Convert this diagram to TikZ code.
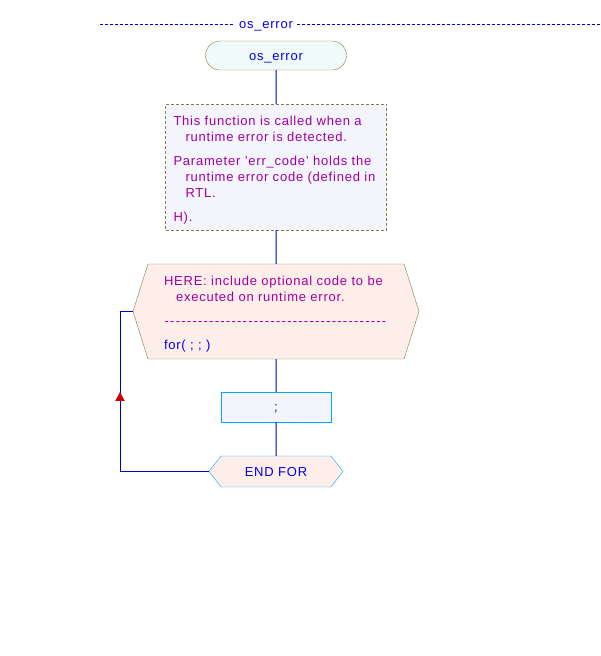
\documentclass[tikz,border=0pt]{standalone}
\usepackage{fontspec}
\setmainfont{Liberation Sans}[LetterSpace=6]
\usetikzlibrary{shapes.misc,shapes.symbols}

\definecolor{flowblue}{RGB}{0,0,204}
\definecolor{textblue}{RGB}{0,0,240}
\definecolor{notetext}{RGB}{160,0,160}
\definecolor{olive}{RGB}{128,128,64}
\definecolor{cyanline}{RGB}{0,168,255}
\definecolor{startfill}{RGB}{240,250,250}
\definecolor{notefill}{RGB}{244,244,252}
\definecolor{loopfill}{RGB}{253,238,234}
\definecolor{arrowred}{RGB}{200,0,0}

\tikzset{
  flow/.style={draw=flowblue, line width=1pt},
  terminal/.style={rounded rectangle, draw=olive, fill=startfill, text=textblue,
    minimum width=141pt, minimum height=29pt, inner sep=0pt,
    text height=9pt, text depth=0pt},
  notebox/.style={rectangle, draw=olive, fill=notefill, text=notetext,
    dash pattern=on 3pt off 2pt, minimum width=221pt, minimum height=126pt,
    text width=205pt, align=left, inner sep=0pt},
  loopbox/.style={signal, signal to=west and east, signal pointer angle=145,
    draw=olive, fill=loopfill, text=notetext, minimum width=286pt,
    minimum height=95pt, text width=224pt, align=left, inner sep=0pt},
  actionbox/.style={rectangle, draw=cyanline, fill=notefill, text=textblue,
    minimum width=110pt, minimum height=30pt, inner sep=0pt,
    text height=8pt, text depth=0pt},
  endloop/.style={signal, signal to=west and east, signal pointer angle=104,
    draw=cyanline, fill=loopfill, text=textblue, minimum width=134pt,
    minimum height=31pt, inner sep=0pt, text height=9pt, text depth=0pt}
}

\newcommand{\dashrule}{\leavevmode\hbox to 223pt{\xleaders\hbox to 5.45pt{\hss-\hss}\hfill}}

\begin{document}
\begin{tikzpicture}[x=1pt, y=-1pt, font=\fontsize{13}{16}\selectfont]
  \useasboundingbox (0,0) rectangle (600,656);

  % Header
  \node[text=textblue, inner sep=4pt, text height=7pt, text depth=0pt]
    (title) at (266,24.5) {os\_error};
  \coordinate (hleft) at (100,24.5);
  \coordinate (hright) at (600,24.5);
  \draw[flowblue, dash pattern=on 3pt off 2pt] (hleft) -- (title.west);
  \draw[flowblue, dash pattern=on 3pt off 2pt] (title.east) -- (hright);

  % Chart
  \node[terminal] (start) at (276,55.5) {os\_error};
  \node[notebox] (note) at (276,167) {%
    \rule{0pt}{15pt}This function is called when a\\
    \hspace*{12pt}runtime error is detected.\\[8pt]
    Parameter 'err\_code' holds the\\
    \hspace*{12pt}runtime error code (defined in\\
    \hspace*{12pt}RTL.\\[8pt]
    H).};
  \node[loopbox] (loop) at (276,311.5) {%
    \rule{0pt}{14pt}HERE: include optional code to be\\
    \hspace*{12pt}executed on runtime error.\\[8pt]
    \dashrule\\[8pt]
    \textcolor{textblue}{for( ; ; )}};
  \node[actionbox] (body) at (276,407) {;};
  \node[endloop] (endfor) at (276,471.5) {END FOR};

  % Connectors
  \draw[flow] (start) -- (note);
  \draw[flow] (note) -- (loop);
  \draw[flow] (loop) -- (body);
  \draw[flow] (body) -- (endfor);

  % Loop back
  \coordinate (back) at (120,471.5);
  \coordinate (backtop) at (120,311.5);
  \draw[flow] (endfor.west) -- (back) -- (backtop) -- (loop.west);
  \path (back) -- (backtop) coordinate[pos=0.497] (tip);
  \fill[arrowred] (tip) -- ++(4.8,9) -- ++(-9.6,0) -- cycle;
\end{tikzpicture}
\end{document}
